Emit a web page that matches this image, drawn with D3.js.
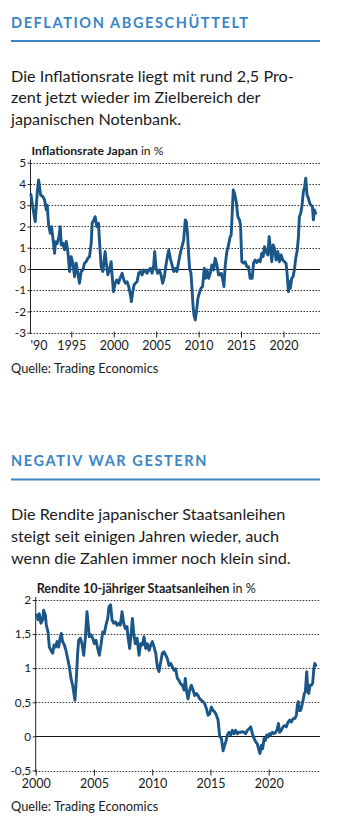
<!DOCTYPE html>
<html>
<head>
<meta charset="utf-8">
<script src="https://cdn.jsdelivr.net/npm/d3@7"></script>
<style>
body { margin: 0; background: #fff; }
svg { display: block; font-family: Lato, "Open Sans", sans-serif; }
</style>
</head>
<body>
<script>
// Inflationsrate Japan (Jahr als Dezimalzahl, Wert in %)
var inflYears = [1990.25, 1990.49, 1990.76, 1991.0, 1991.16, 1991.39, 1991.66, 1991.86, 1992.06, 1992.17, 1992.33, 1992.53, 1992.68, 1992.84,
    1993.04, 1993.15, 1993.35, 1993.55, 1993.7, 1993.82, 1994.02, 1994.21, 1994.41, 1994.6, 1994.8, 1994.99, 1995.19, 1995.39, 1995.58,
    1995.78, 1995.97, 1996.17, 1996.37, 1996.56, 1996.76, 1996.95, 1997.15, 1997.35, 1997.46, 1997.66, 1997.82, 1998.01, 1998.21, 1998.33,
    1998.52, 1998.72, 1998.99, 1999.11, 1999.31, 1999.5, 1999.7, 1999.81, 1999.97, 2000.17, 2000.36, 2000.56, 2000.75, 2000.99, 2001.19,
    2001.38, 2001.58, 2001.77, 2001.97, 2002.09, 2002.24, 2002.4, 2002.56, 2002.75, 2002.95, 2003.14, 2003.34, 2003.54, 2003.73, 2003.93,
    2004.12, 2004.32, 2004.52, 2004.71, 2004.83, 2004.99, 2005.18, 2005.38, 2005.57, 2005.77, 2005.97, 2006.16, 2006.36, 2006.48, 2006.67,
    2006.87, 2007.06, 2007.26, 2007.45, 2007.65, 2007.85, 2008.04, 2008.24, 2008.43, 2008.55, 2008.71, 2008.83, 2008.94, 2009.1, 2009.22,
    2009.34, 2009.45, 2009.61, 2009.77, 2009.92, 2010.08, 2010.28, 2010.47, 2010.67, 2010.82, 2010.98, 2011.18, 2011.37, 2011.57, 2011.76,
    2011.96, 2012.16, 2012.35, 2012.47, 2012.67, 2012.86, 2012.98, 2013.14, 2013.33, 2013.53, 2013.72, 2013.84, 2013.96, 2014.08, 2014.23,
    2014.43, 2014.62, 2014.82, 2014.94, 2015.09, 2015.29, 2015.49, 2015.68, 2015.88, 2016.07, 2016.31, 2016.47, 2016.66, 2016.86, 2017.05,
    2017.25, 2017.45, 2017.6, 2017.76, 2017.95, 2018.15, 2018.31, 2018.46, 2018.62, 2018.78, 2018.93, 2019.13, 2019.33, 2019.52, 2019.72,
    2019.91, 2020.11, 2020.3, 2020.42, 2020.58, 2020.7, 2020.81, 2020.97, 2021.13, 2021.28, 2021.44, 2021.6, 2021.75, 2021.87, 2022.03,
    2022.19, 2022.34, 2022.5, 2022.62, 2022.77, 2022.93, 2023.09, 2023.24, 2023.4, 2023.52, 2023.64, 2023.79];
var inflRates = [3.5, 2.85, 2.23, 3.64, 4.19, 3.48, 3.4, 3.25, 2.78, 3.0, 2.07, 1.68, 1.99, 1.44,
    0.74, 1.28, 1.2, 1.52, 1.99, 1.13, 1.21, 0.9, 1.3, 0.82, -0.12, 0.58, 0.27, -0.36, 0.27,
    -0.2, -0.67, -0.12, -0.05, 0.27, 0.34, 0.5, 0.58, 1.21, 2.15, 2.31, 2.46, 1.99, 2.15, 1.28,
    0.11, -0.12, 0.82, 0.34, -0.28, -0.05, 0.34, -0.28, -1.07, -0.67, -0.52, -0.67, -0.44, -0.2, -0.52,
    -0.67, -0.6, -0.83, -1.22, -1.54, -1.07, -0.75, -0.67, -0.6, -0.2, -0.12, -0.28, -0.05, -0.12, -0.2,
    -0.05, 0.03, -0.2, 0.19, 0.82, 0.03, -0.2, -0.05, -0.28, -0.67, -0.36, 0.19, 0.66, 0.89, 0.5,
    0.19, -0.12, 0.03, -0.12, 0.34, 0.74, 1.05, 1.36, 2.31, 2.23, 1.6, 0.66, 0.03, -0.2, -0.91,
    -1.69, -2.16, -2.4, -1.93, -1.38, -1.14, -0.91, -0.83, 0.03, -0.44, -0.05, -0.44, -0.2, 0.19, -0.05,
    0.5, 0.19, -0.28, -0.28, -0.2, -0.52, -0.83, 0.19, 0.82, 1.13, 1.52, 1.6, 2.62, 3.72, 3.56,
    3.17, 2.46, 2.31, 2.07, 0.34, 0.27, 0.34, 0.11, 0.11, -0.44, -0.44, 0.27, 0.42, 0.3, 0.42,
    0.34, 0.74, 0.58, 1.05, 0.82, 0.66, 1.52, 0.97, 0.34, 1.13, 0.97, 0.42, 0.82, 0.34, 0.66,
    0.42, 0.34, 0.27, -0.2, -1.07, -0.6, -0.91, -0.44, -0.36, -0.05, 0.5, 0.82, 1.44, 2.46, 2.62,
    3.0, 3.64, 3.88, 4.27, 3.48, 3.33, 3.09, 3.0, 2.94, 2.31, 2.78, 2.62];

// Rendite 10-jähriger Staatsanleihen (Jahr als Dezimalzahl, Wert in %)
var yieldYears = [2000.11, 2000.2, 2000.31, 2000.45, 2000.6, 2000.68, 2000.83, 2000.91, 2001.06, 2001.17, 2001.31, 2001.46, 2001.57, 2001.71,
    2001.83, 2001.97, 2002.11, 2002.2, 2002.31, 2002.46, 2002.6, 2002.74, 2002.89, 2003.03, 2003.17, 2003.26, 2003.37, 2003.49, 2003.6,
    2003.69, 2003.83, 2003.97, 2004.12, 2004.26, 2004.4, 2004.49, 2004.6, 2004.75, 2004.89, 2005.03, 2005.18, 2005.32, 2005.46, 2005.6,
    2005.75, 2005.89, 2006.03, 2006.18, 2006.29, 2006.43, 2006.55, 2006.69, 2006.84, 2006.98, 2007.12, 2007.26, 2007.41, 2007.55, 2007.69,
    2007.84, 2007.92, 2008.07, 2008.21, 2008.3, 2008.41, 2008.55, 2008.7, 2008.87, 2009.01, 2009.15, 2009.3, 2009.44, 2009.58, 2009.73,
    2009.87, 2010.01, 2010.16, 2010.3, 2010.44, 2010.58, 2010.73, 2010.87, 2011.01, 2011.16, 2011.3, 2011.44, 2011.59, 2011.73, 2011.87,
    2012.01, 2012.16, 2012.3, 2012.44, 2012.59, 2012.73, 2012.84, 2012.96, 2013.07, 2013.22, 2013.36, 2013.5, 2013.65, 2013.79, 2013.93,
    2014.07, 2014.22, 2014.36, 2014.5, 2014.65, 2014.79, 2014.93, 2015.08, 2015.22, 2015.36, 2015.51, 2015.65, 2015.79, 2015.94, 2016.08,
    2016.2, 2016.31, 2016.45, 2016.59, 2016.74, 2016.88, 2017.02, 2017.16, 2017.31, 2017.45, 2017.59, 2017.74, 2017.88, 2018.02, 2018.17,
    2018.31, 2018.45, 2018.6, 2018.74, 2018.88, 2019.02, 2019.17, 2019.25, 2019.37, 2019.48, 2019.6, 2019.71, 2019.83, 2019.94, 2020.05,
    2020.17, 2020.31, 2020.45, 2020.6, 2020.74, 2020.83, 2020.94, 2021.08, 2021.23, 2021.37, 2021.51, 2021.66, 2021.8, 2021.94, 2022.09,
    2022.23, 2022.37, 2022.46, 2022.54, 2022.63, 2022.74, 2022.86, 2022.97, 2023.06, 2023.14, 2023.26, 2023.34, 2023.43, 2023.54, 2023.66,
    2023.77, 2023.86, 2023.95, 2024.03];
var yieldRates = [1.78, 1.71, 1.8, 1.66, 1.71, 1.85, 1.78, 1.63, 1.53, 1.31, 1.26, 1.22, 1.34, 1.31,
    1.39, 1.31, 1.46, 1.51, 1.39, 1.34, 1.26, 1.14, 1.02, 0.85, 0.75, 0.65, 0.53, 0.85, 1.22,
    1.41, 1.44, 1.36, 1.19, 1.44, 1.83, 1.66, 1.46, 1.49, 1.44, 1.36, 1.41, 1.29, 1.19, 1.34,
    1.53, 1.51, 1.63, 1.73, 1.9, 1.93, 1.71, 1.66, 1.68, 1.63, 1.66, 1.63, 1.83, 1.66, 1.58,
    1.61, 1.46, 1.29, 1.54, 1.73, 1.51, 1.36, 1.44, 1.19, 1.36, 1.34, 1.46, 1.29, 1.36, 1.26,
    1.34, 1.39, 1.31, 1.22, 1.02, 0.95, 1.09, 1.22, 1.24, 1.19, 1.14, 1.04, 1.07, 1.02, 0.97,
    0.99, 0.85, 0.82, 0.77, 0.75, 0.68, 0.85, 0.65, 0.55, 0.68, 0.75, 0.68, 0.6, 0.63, 0.6,
    0.55, 0.53, 0.51, 0.48, 0.41, 0.31, 0.33, 0.43, 0.38, 0.36, 0.31, 0.24, 0.0, -0.03, -0.21,
    -0.14, -0.08, 0.02, 0.06, 0.02, 0.09, 0.04, 0.09, 0.04, 0.06, 0.06, 0.07, 0.06, 0.04, 0.09,
    0.11, 0.14, 0.04, -0.03, -0.08, -0.11, -0.21, -0.25, -0.13, -0.18, -0.03, -0.06, 0.02, -0.01, 0.04,
    0.02, 0.06, 0.04, 0.06, 0.11, 0.19, 0.06, 0.09, 0.14, 0.16, 0.14, 0.21, 0.24, 0.21, 0.26,
    0.26, 0.31, 0.46, 0.51, 0.38, 0.38, 0.46, 0.55, 0.63, 0.65, 0.95, 0.7, 0.63, 0.75, 0.75,
    0.78, 0.97, 1.07, 1.04];

// Achsen
var inflTicksY = [-3, -2, -1, 0, 1, 2, 3, 4, 5];
var inflTicksX = [1990, 1995, 2000, 2005, 2010, 2015, 2020];
var inflTickLabelsX = ["'90", "1995", "2000", "2005", "2010", "2015", "2020"];
var yieldTicksY = [-0.5, 0, 0.5, 1, 1.5, 2];
var yieldTickLabelsY = ["-0,5", "0", "0,5", "1", "1,5", "2"];
var yieldTicksX = [2000, 2005, 2010, 2015, 2020];

var blue = "#3a86c6",
    lineColor = "#1b5689",
    textColor = "#1a1a1a";

var svg = d3.select("body").append("svg")
    .attr("width", 338)
    .attr("height", 817);

// kopf: titel, blaue linie, einleitungstext
function kopf(titel, top, zeilen) {
    svg.append("text")
        .attr("x", 11)
        .attr("y", top)
        .attr("fill", blue)
        .attr("font-size", 14.5)
        .attr("font-weight", "bold")
        .attr("letter-spacing", 1.6)
        .text(titel);
    svg.append("line")
        .attr("x1", 11).attr("x2", 320)
        .attr("y1", top + 13.5).attr("y2", top + 13.5)
        .attr("stroke", blue)
        .attr("stroke-width", 2);
    svg.append("g")
        .attr("fill", textColor)
        .attr("font-size", 16.2)
        .selectAll("text")
        .data(zeilen)
        .enter().append("text")
        .attr("x", 11)
        .attr("y", function (d, i) { return top + 54 + i * 21.8; })
        .text(function (d) { return d; });
}

// diagramm met rasterlijnen, as en lijn
function diagramm(opt) {
    var x = d3.scaleLinear().domain(opt.xDomain).range([opt.left, 320]);
    var y = d3.scaleLinear().domain(opt.yDomain).range([opt.bottom, opt.top]);
    var g = svg.append("g");

    // titel
    var t = g.append("text")
        .attr("x", opt.left + 1)
        .attr("y", opt.top - 7.5)
        .attr("font-size", opt.titelSize)
        .attr("fill", textColor);
    t.append("tspan").attr("font-weight", "bold").text(opt.titel);
    t.append("tspan").text(" in %");

    // rasterlijnen
    g.append("g")
        .selectAll("line")
        .data(opt.ticksY)
        .enter().append("line")
        .attr("x1", opt.left)
        .attr("x2", 320)
        .attr("y1", function (d) { return Math.round(y(d)) + 0.5; })
        .attr("y2", function (d) { return Math.round(y(d)) + 0.5; })
        .attr("stroke", function (d) { return d === 0 ? "#111" : "#333"; })
        .attr("stroke-width", 1)
        .attr("stroke-dasharray", function (d) { return d === 0 ? null : "1.5,1.5"; });

    // y-as
    var ay = g.append("g")
        .attr("transform", "translate(" + opt.left + ",0)")
        .call(d3.axisLeft(y).tickValues(opt.ticksY).tickSize(3).tickPadding(1.5)
            .tickFormat(function (d, i) { return opt.labelsY[i]; }));
    ay.select(".domain").remove();
    ay.selectAll("line").attr("stroke", "#222");
    ay.selectAll("text").attr("font-size", 11.8).attr("fill", textColor)
        .attr("font-family", "Lato, sans-serif");
    g.append("line")
        .attr("x1", opt.left).attr("x2", opt.left)
        .attr("y1", opt.top - 3).attr("y2", opt.bottom + 1)
        .attr("stroke", "#222");

    // x-as
    var ax = g.append("g")
        .attr("transform", "translate(0," + (Math.round(opt.bottom) + 0.5) + ")")
        .call(d3.axisBottom(x).tickValues(opt.ticksX).tickSize(4).tickPadding(4)
            .tickFormat(function (d, i) { return opt.labelsX[i]; }));
    ax.select(".domain").remove();
    ax.selectAll("line").attr("y1", -2).attr("stroke", "#222");
    ax.selectAll("text").attr("font-size", 12.5).attr("fill", textColor)
        .attr("font-family", "Lato, sans-serif");
    if (opt.ersteLinks) {
        ax.select(".tick text").attr("text-anchor", "start").attr("x", opt.left - x(opt.ticksX[0]) - 0.5);
        ax.select(".tick line").remove();
    }

    // datenlinie
    var line = d3.line()
        .x(function (d) { return x(d[0]); })
        .y(function (d) { return y(d[1]); });
    g.append("path")
        .datum(d3.zip(opt.years, opt.values))
        .attr("fill", "none")
        .attr("stroke", lineColor)
        .attr("stroke-width", 2.9)
        .attr("stroke-linejoin", "round")
        .attr("stroke-linecap", "round")
        .attr("d", line);

    // quelle
    svg.append("text")
        .attr("x", 11)
        .attr("y", opt.quelle)
        .attr("font-size", 12.8)
        .attr("fill", textColor)
        .text("Quelle: Trading Economics");
}

kopf("DEFLATION ABGESCHÜTTELT", 27.5, [
    "Die Inflationsrate liegt mit rund 2,5 Pro-",
    "zent jetzt wieder im Zielbereich der",
    "japanischen Notenbank."
]);

diagramm({
    titel: "Inflationsrate Japan",
    titelSize: 12.2,
    xDomain: [1990.2, 2024.3],
    yDomain: [-3, 5],
    left: 30.5,
    top: 162.7,
    bottom: 332.7,
    ticksY: inflTicksY,
    labelsY: inflTicksY.map(String),
    ticksX: inflTicksX,
    labelsX: inflTickLabelsX,
    ersteLinks: true,
    years: inflYears,
    values: inflRates,
    quelle: 373
});

kopf("NEGATIV WAR GESTERN", 466, [
    "Die Rendite japanischer Staatsanleihen",
    "steigt seit einigen Jahren wieder, auch",
    "wenn die Zahlen immer noch klein sind."
]);

diagramm({
    titel: "Rendite 10-jähriger Staatsanleihen",
    titelSize: 12.6,
    xDomain: [2000, 2024.4],
    yDomain: [-0.5, 2],
    left: 35.7,
    top: 600,
    bottom: 770.5,
    ticksY: yieldTicksY,
    labelsY: yieldTickLabelsY,
    ticksX: yieldTicksX,
    labelsX: yieldTicksX.map(String),
    ersteLinks: false,
    years: yieldYears,
    values: yieldRates,
    quelle: 811
});
</script>
</body>
</html>
